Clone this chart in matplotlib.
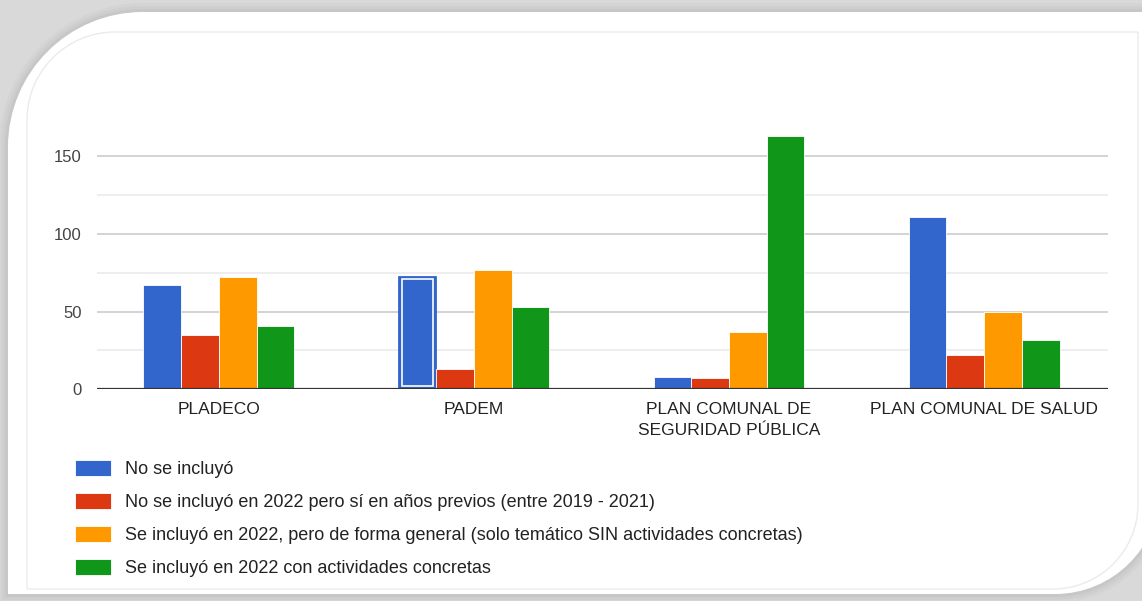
import os

os.environ.setdefault("MPLCONFIGDIR", "/tmp/matplotlib")

import matplotlib  # noqa: E402

matplotlib.use("Agg")
import matplotlib.pyplot as plt  # noqa: E402
from matplotlib.patches import PathPatch, Rectangle  # noqa: E402
from matplotlib.path import Path  # noqa: E402


CATEGORIES = [
    "PLADECO",
    "PADEM",
    "PLAN COMUNAL DE\nSEGURIDAD PÚBLICA",
    "PLAN COMUNAL DE SALUD",
]
SERIES_LABELS = [
    "No se incluyó",
    "No se incluyó en 2022 pero sí en años previos (entre 2019 - 2021)",
    "Se incluyó en 2022, pero de forma general (solo temático SIN actividades concretas)",
    "Se incluyó en 2022 con actividades concretas",
]
NO_INCLUYO = [67, 73, 8, 111]
PREVIOS = [35, 13, 7, 22]
GENERAL = [72, 77, 37, 50]
CONCRETAS = [41, 53, 163, 32]
MAJOR_TICKS = [0, 50, 100, 150]
MINOR_TICKS = [25, 75, 125]

COLORS = ["#3366cc", "#dc3912", "#ff9900", "#109618"]
W, H = 1142, 601

plt.rcParams["font.family"] = ["Liberation Sans", "DejaVu Sans"]


def leaf_path(x0, y0, x1, y1, r_tl, r_br):
    # rounded top-left and bottom-right corners, square elsewhere (y down)
    k = 0.5523
    verts = [
        (x0, y0 + r_tl),
        (x0, y0 + r_tl - k * r_tl), (x0 + r_tl - k * r_tl, y0), (x0 + r_tl, y0),
        (x1, y0),
        (x1, y1 - r_br),
        (x1, y1 - r_br + k * r_br), (x1 - r_br + k * r_br, y1), (x1 - r_br, y1),
        (x0, y1),
        (x0, y0 + r_tl),
    ]
    codes = [Path.MOVETO,
             Path.CURVE4, Path.CURVE4, Path.CURVE4,
             Path.LINETO, Path.LINETO,
             Path.CURVE4, Path.CURVE4, Path.CURVE4,
             Path.LINETO, Path.CLOSEPOLY]
    return Path(verts, codes)


fig = plt.figure(figsize=(W / 100, H / 100), dpi=100)
fig.patch.set_facecolor("#d9d9d9")

# background card (pixel coordinates, y down)
bg = fig.add_axes([0, 0, 1, 1])
bg.set_xlim(0, W)
bg.set_ylim(H, 0)
bg.axis("off")
for grow, alpha in [(9, 0.05), (6, 0.07), (3, 0.1)]:
    bg.add_patch(PathPatch(
        leaf_path(8 - grow, 12 - grow, 1160 + grow, 594 + grow, 135 + grow, 105 + grow),
        fc="#8a8a8a", ec="none", alpha=alpha))
bg.add_patch(PathPatch(leaf_path(8, 12, 1160, 594, 135, 105), fc="white", ec="none"))
bg.add_patch(PathPatch(leaf_path(27, 32, 1138, 589, 88, 85),
                       fc="none", ec="#ebebeb", lw=1))

ax = fig.add_axes([97 / W, (H - 389.3) / H, 1011 / W, 271.8 / H])
ax.set_facecolor("none")

series = [NO_INCLUYO, PREVIOS, GENERAL, CONCRETAS]
x_values = list(range(len(CATEGORIES)))
width = 0.148
bars = []
for index, (values, label) in enumerate(zip(series, SERIES_LABELS)):
    bars.append(ax.bar(
        [x + (index - 1.5) * width for x in x_values],
        values,
        width=width,
        color=COLORS[index],
        edgecolor="white",
        linewidth=0.6,
        label=label,
        zorder=3,
    ))

# highlighted bar (PADEM, first series) has an inner white outline
hl = bars[0][1]
inset = 0.012
ax.add_patch(Rectangle(
    (hl.get_x() + inset, hl.get_y() + 2), hl.get_width() - 2 * inset,
    hl.get_height() - 4, fill=False, ec="white", lw=1.2, zorder=4))
hl.set_edgecolor("#3366cc")

ax.set_xlim(-0.478, 3.486)
ax.set_ylim(0, 175)
ax.set_yticks(MAJOR_TICKS)
ax.set_yticks(MINOR_TICKS, minor=True)
ax.set_yticklabels([str(v) for v in MAJOR_TICKS], fontsize=12, color="#444444")
ax.set_xticks(x_values)
ax.set_xticklabels(CATEGORIES, fontsize=12.5, color="#222222", linespacing=1.5)
ax.tick_params(axis="both", which="both", length=0)
ax.tick_params(axis="y", pad=11)
ax.tick_params(axis="x", pad=9)
ax.grid(True, axis="y", which="major", color="#cccccc", lw=1.2, zorder=0)
ax.grid(True, axis="y", which="minor", color="#ebebeb", lw=1.2, zorder=0)
ax.axhline(0, color="#333333", lw=1.6, zorder=5)
for spine in ax.spines.values():
    spine.set_visible(False)

ax.legend(
    loc="upper left",
    bbox_to_anchor=(75 / W, 1 - 460 / H),
    bbox_transform=fig.transFigure,
    frameon=False,
    fontsize=13,
    handlelength=2.0,
    handleheight=1.0,
    handletextpad=0.75,
    labelspacing=0.82,
    borderaxespad=0,
    borderpad=0,
    labelcolor="#222222",
)

fig.savefig("out.png", dpi=100, facecolor=fig.get_facecolor())
